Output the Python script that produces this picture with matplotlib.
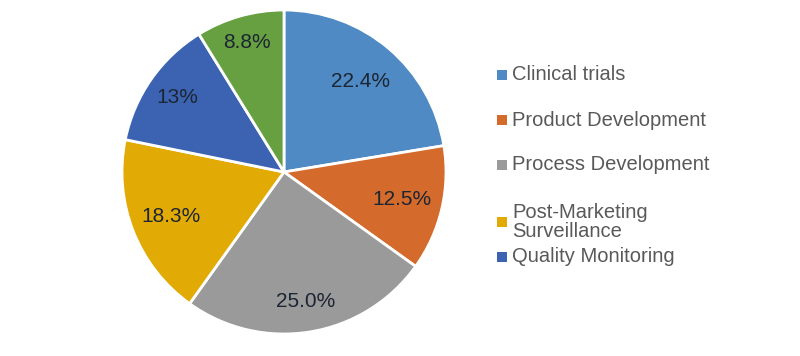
import matplotlib
matplotlib.use("Agg")
import matplotlib.pyplot as plt
from matplotlib.patches import Rectangle
import numpy as np

plt.rcParams['font.family'] = ['Liberation Sans', 'DejaVu Sans']

categories = ["Clinical trials", "Product Development", "Process Development",
              "Post-Marketing\nSurveillance", "Quality Monitoring", "Other"]
values = [22.4, 12.5, 25.0, 18.3, 13.0, 8.8]
pct_labels = ["22.4%", "12.5%", "25.0%", "18.3%", "13%", "8.8%"]
colors = ["#4F8AC4", "#D46A2B", "#9A9A9A", "#E2AA05", "#3B63B2", "#67A040"]

fig = plt.figure(figsize=(8, 3.56), dpi=100)
cx, cy, r = 284, 356 - 172, 162
ax = fig.add_axes([(cx - r) / 800, (cy - r) / 356, 2 * r / 800, 2 * r / 356])
wedges, texts = ax.pie(values, colors=colors, startangle=90, counterclock=False,
                       labels=pct_labels, labeldistance=0.78,
                       wedgeprops=dict(edgecolor="white", linewidth=2),
                       textprops=dict(fontsize=15, color="#1C2533", ha="center", va="center"))
# per-label radial placement
dists = [0.73, 0.75, 0.81, 0.75, 0.80, 0.83]
for t, d in zip(texts, dists):
    x, y = t.get_position()
    rr = np.hypot(x, y)
    t.set_position((x / rr * d, y / rr * d))
    t.set_ha("center"); t.set_va("center")
ax.set_xlim(-1.0, 1.0)
ax.set_ylim(-1.0, 1.0)
ax.set_aspect("equal")

# legend (first five categories)
leg_y = [75, 120, 165, 222, 257]
for i in range(5):
    y = leg_y[i]
    fig.patches.append(Rectangle(((497) / 800, (356 - y - 5) / 356), 10 / 800, 10 / 356,
                                 transform=fig.transFigure, facecolor=colors[i],
                                 edgecolor="none", figure=fig))
    fig.text(512 / 800, (356 - y) / 356, categories[i], fontsize=14.5, color="#595959",
             ha="left", va="center", linespacing=1.02)

fig.savefig("out.png", dpi=100, facecolor="white")
